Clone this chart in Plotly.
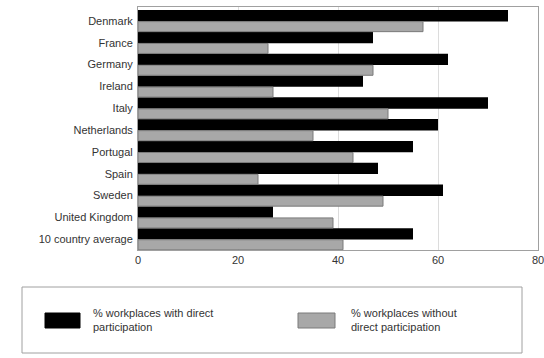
import plotly.graph_objects as go

countries = ["Denmark", "France", "Germany", "Ireland", "Italy", "Netherlands",
             "Portugal", "Spain", "Sweden", "United Kingdom", "10 country average"]
with_direct = [74, 47, 62, 45, 70, 60, 55, 48, 61, 27, 55]
without_direct = [57, 26, 47, 27, 50, 35, 43, 24, 49, 39, 41]
x_ticks = [0, 20, 40, 60, 80]

series_names = ["% workplaces with direct<br>participation",
                "% workplaces without<br>direct participation"]

FONT = "Liberation Sans, Arial, sans-serif"

fig = go.Figure()
fig.add_trace(go.Bar(
    y=countries, x=with_direct, orientation="h", name=series_names[0],
    marker=dict(color="#000000", line=dict(width=0)),
    width=0.52, offset=-0.5, showlegend=False,
))
fig.add_trace(go.Bar(
    y=countries, x=without_direct, orientation="h", name=series_names[1],
    marker=dict(color="#a8a8a8", line=dict(color="#7a7a7a", width=1)),
    width=0.46, offset=0.03, showlegend=False,
))

fig.update_layout(
    width=544, height=358,
    margin=dict(l=138, r=6, t=7, b=108),
    paper_bgcolor="white", plot_bgcolor="white",
    barmode="overlay",
    font=dict(family=FONT, size=11, color="#333333"),
    xaxis=dict(range=[0, 80], tickvals=x_ticks, showgrid=True,
               gridcolor="#dcdcdc", gridwidth=1, zeroline=False,
               showline=True, linecolor="#a0a0a0", mirror=True,
               ticks="", ticklabeloverflow="allow", automargin=False,
               tickfont=dict(size=11, color="#333333")),
    yaxis=dict(range=[10.5, -0.64], showgrid=False, zeroline=False,
               showline=True, linecolor="#a0a0a0", mirror=True,
               ticks="", ticklabelstandoff=2, automargin=False,
               tickfont=dict(size=11, color="#333333")),
)

# Legend box drawn below the plot
fig.add_shape(type="rect", xref="paper", yref="paper",
              x0=(22 - 138) / 400, x1=(522 - 138) / 400,
              y0=-(353 - 250) / 243, y1=-(287 - 250) / 243,
              line=dict(color="#a0a0a0", width=1), fillcolor="white")
fig.add_shape(type="rect", xref="paper", yref="paper",
              x0=(45 - 138) / 400, x1=(80 - 138) / 400,
              y0=-(328 - 250) / 243, y1=-(313 - 250) / 243,
              line=dict(color="#000000", width=1), fillcolor="#000000")
fig.add_shape(type="rect", xref="paper", yref="paper",
              x0=(298 - 138) / 400, x1=(335 - 138) / 400,
              y0=-(328 - 250) / 243, y1=-(313 - 250) / 243,
              line=dict(color="#7a7a7a", width=1), fillcolor="#a8a8a8")
for xpx, text in [(91, series_names[0]), (349, series_names[1])]:
    fig.add_annotation(xref="paper", yref="paper",
                       x=(xpx - 138) / 400, y=-(320 - 250) / 243,
                       text=text, showarrow=False, xanchor="left",
                       yanchor="middle", align="left",
                       font=dict(family=FONT, size=11, color="#333333"))

fig.write_html("out.html")
